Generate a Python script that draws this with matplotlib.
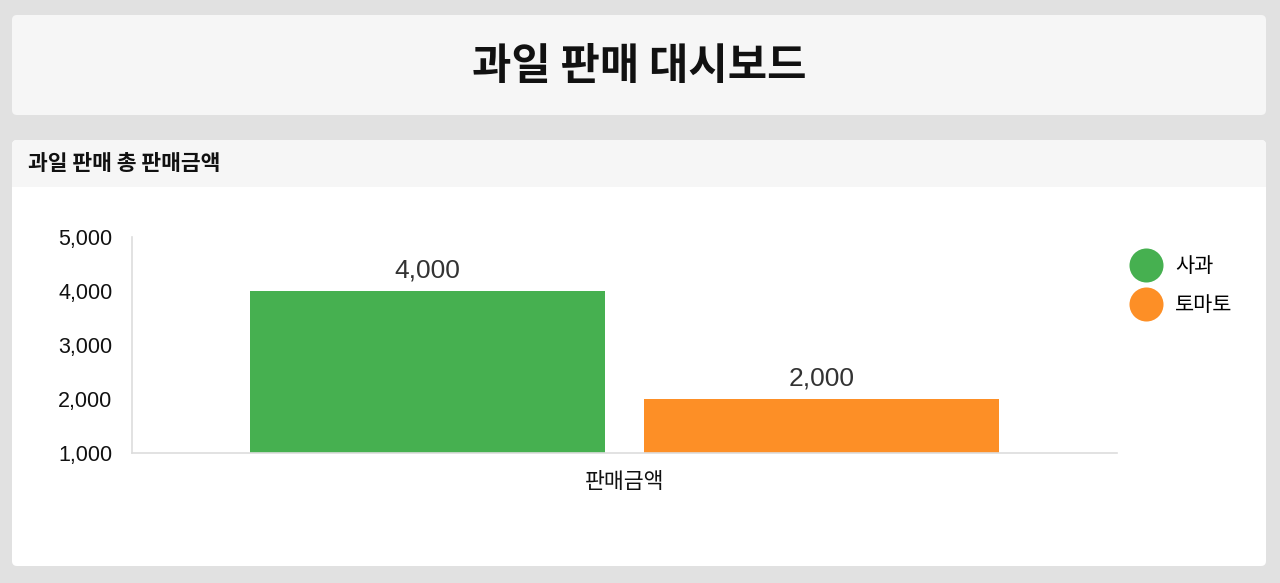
import matplotlib
matplotlib.use('Agg')
import matplotlib.pyplot as plt
from matplotlib.patches import FancyBboxPatch, Rectangle
from matplotlib.lines import Line2D
import numpy as np

# ---- data ----
categories = ['판매금액']
series_names = ['사과', '토마토']
apple_values = [4000]
tomato_values = [2000]
series_colors = ['#46b050', '#fd8f26']
yticks = [1000, 2000, 3000, 4000, 5000]
dashboard_title = '과일 판매 대시보드'
panel_title = '과일 판매 총 판매금액'

KR = ['Noto Sans CJK KR', 'DejaVu Sans']
NUM = ['Liberation Sans', 'DejaVu Sans']
plt.rcParams['font.family'] = NUM

W, H = 1280, 583
fig = plt.figure(figsize=(12.8, 5.83), dpi=100)
fig.patch.set_facecolor('#e1e1e1')
bg = fig.add_axes([0, 0, 1, 1])
bg.set_xlim(0, W)
bg.set_ylim(H, 0)
bg.axis('off')


def card(x0, y0, x1, y1, color, r=5):
    bg.add_patch(FancyBboxPatch((x0, y0), x1 - x0, y1 - y0,
                                boxstyle=f'round,pad=0,rounding_size={r}',
                                fc=color, ec='none'))


# top title card
card(12, 15, 1266, 115, '#f6f6f6')
bg.text(639, 66, dashboard_title, ha='center', va='center', fontsize=30.8,
        fontweight='bold', family=KR, color='#111111')

# chart card
card(12, 140, 1266, 566, '#ffffff')
card(12, 140, 1266, 195, '#f6f6f6')
bg.add_patch(Rectangle((12, 187), 1254, 12, fc='#ffffff', ec='none'))
bg.text(28, 164, panel_title, ha='left', va='center', fontsize=15.5,
        fontweight='bold', family=KR, color='#111111')

# chart axes (pixel box: x 132..1117, y 237..453)
L, R, T, B = 132, 1117, 237, 453
ax = fig.add_axes([L / W, (H - B) / H, (R - L) / W, (B - T) / H])
ax.set_facecolor('none')

x = np.arange(len(categories))
width = 0.36
offsets = [-0.2, 0.2]
values = [apple_values, tomato_values]
for name, vals, col, off in zip(series_names, values, series_colors, offsets):
    b = ax.bar(x + off, vals, width=width, color=col, label=name, zorder=2)
    ax.bar_label(b, labels=[f'{v:,}' for v in vals], padding=6,
                 fontsize=19, color='#333333', family=NUM)

ax.set_xlim(-0.5, 0.5)
ax.set_ylim(yticks[0], yticks[-1])
ax.set_yticks(yticks)
ax.set_yticklabels([f'{v:,}' for v in yticks], fontsize=15.5, family=NUM,
                   color='#111111')
ax.set_xticks(x)
ax.set_xticklabels(categories, fontsize=15.6, family=KR, color='#111111')
ax.tick_params(axis='y', length=0, pad=14)
ax.tick_params(axis='x', length=0, pad=13)
for s in ['top', 'right']:
    ax.spines[s].set_visible(False)
for s in ['left', 'bottom']:
    ax.spines[s].set_color('#dddddd')
    ax.spines[s].set_linewidth(1.2)

handles = [Line2D([0], [0], marker='o', linestyle='none', markersize=24.5,
                  markerfacecolor=c, markeredgecolor='none')
           for c in series_colors]
leg = ax.legend(handles, series_names, loc='upper left',
                bbox_to_anchor=(1120 / W, (H - 245) / H),
                bbox_transform=fig.transFigure, frameon=False,
                prop={'family': KR, 'size': 15}, labelspacing=0.80,
                handletextpad=0.65, borderpad=0, handlelength=1.5)

fig.savefig('out.png', dpi=100, facecolor=fig.get_facecolor())
